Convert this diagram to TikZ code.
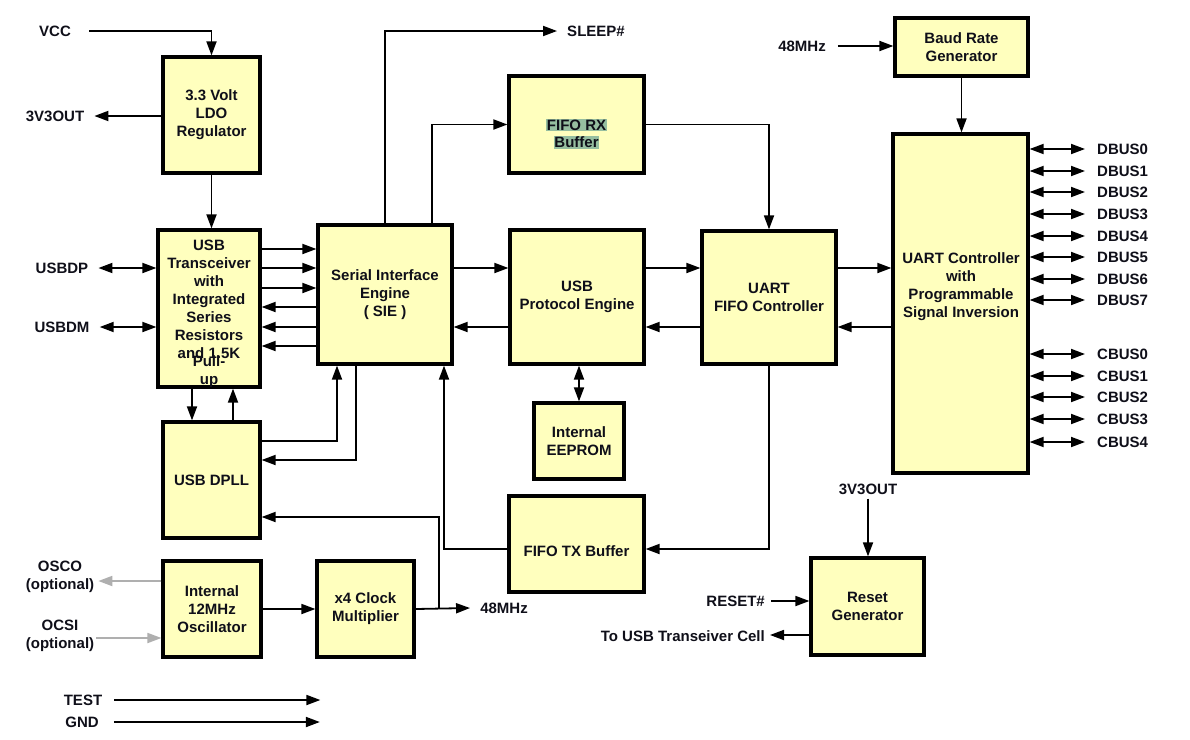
\documentclass[tikz,border=0pt]{standalone}
\usepackage{fontspec}
\setmainfont{Liberation Sans}
\usetikzlibrary{arrows.meta,calc}
\definecolor{boxfill}{RGB}{255,255,190}
\definecolor{hl}{RGB}{150,190,160}
\definecolor{txtc}{RGB}{15,15,25}
\definecolor{greyarr}{RGB}{175,175,175}
\tikzset{
  blk/.style={draw=black, line width=3.2pt, fill=boxfill, inner sep=0pt, rectangle,
    font=\fontsize{15}{18}\selectfont\bfseries, text=txtc, align=center},
  txt/.style={inner sep=0pt, font=\fontsize{15}{18}\selectfont\bfseries, text=txtc, align=center},
  arr/.style={line width=1.8pt, -{Triangle[length=14pt,width=10pt]}},
  darr/.style={line width=1.8pt, {Triangle[length=14pt,width=10pt]}-{Triangle[length=14pt,width=10pt]}},
  garr/.style={line width=1.8pt, draw=greyarr, -{Triangle[length=14pt,width=10pt,fill=greyarr]}},
  ln/.style={line width=1.8pt}
}
\begin{document}
\begin{tikzpicture}[x=1pt,y=-1pt]
\useasboundingbox[fill=white] (0,0) rectangle (1190,739);

% ---- boxes ----
\node[blk, minimum width=97, minimum height=116] (ldo) at (211.5,115) {3.3 Volt\\LDO\\Regulator};
\node[blk, minimum width=102, minimum height=157] (trx) at (209,308.5) {};
\node[txt] (trxt) at (209,299) {USB\\Transceiver\\with\\Integrated\\Series\\Resistors\\and 1.5K};
\node[txt] (trxp) at (209,372) {Pull-\\up};
\node[blk, minimum width=97, minimum height=116] (dpll) at (211.5,480) {USB DPLL};
\node[blk, minimum width=98, minimum height=96] (osc) at (212,609) {Internal\\12MHz\\Oscillator};
\node[blk, minimum width=97, minimum height=96] (mult) at (365.5,609) {x4 Clock\\Multiplier};
\node[blk, minimum width=134, minimum height=139] (sie) at (385,294.5) {Serial Interface\\Engine\\( SIE )};
\node[blk, minimum width=135, minimum height=97] (rx) at (576.5,124.5) {};
\node[txt, fill=hl, inner sep=0.6pt] (rxa) at (576.5,125) {FIFO RX};
\node[txt, fill=hl, inner sep=0.6pt] (rxb) at (576.5,142.5) {Buffer};
\node[blk, minimum width=134, minimum height=134] (upe) at (577,297) {USB\\Protocol Engine};
\node[blk, minimum width=90, minimum height=76] (eep) at (579,441) {Internal\\EEPROM};
\node[blk, minimum width=135, minimum height=96] (tx) at (576.5,544) {};
\node[txt] (txt) at (576.5,551) {FIFO TX Buffer};
\node[blk, minimum width=134, minimum height=133] (uff) at (769,297.5) {UART\\FIFO Controller};
\node[blk, minimum width=133, minimum height=58] (baud) at (961.5,47) {Baud Rate\\Generator};
\node[blk, minimum width=135, minimum height=339] (uart) at (960.5,303.5) {};
\node[txt] (uartt) at (961,287) {UART Controller\\with\\Programmable\\Signal Inversion};
\node[blk, minimum width=113, minimum height=97] (rst) at (867.5,606.5) {Reset\\Generator};

% ---- labels ----
\node[txt] (vcc) at (55,31) {VCC};
\node[txt] (v3a) at (55,116) {3V3OUT};
\node[txt] (usbdp) at (62,268) {USBDP};
\node[txt] (usbdm) at (62,327) {USBDM};
\node[txt] (osco) at (60,577) {OSCO\\(optional)};
\node[txt] (ocsi) at (60,636) {OCSI\\(optional)};
\node[txt] (test) at (83,700) {TEST};
\node[txt] (gnd) at (82,722) {GND};
\node[txt] (sleep) at (596,31) {SLEEP\#};
\node[txt] (m48b) at (504,608) {48MHz};
\node[txt] (m48a) at (802,46) {48MHz};
\node[txt] (v3b) at (868,489) {3V3OUT};
\node[txt, anchor=east] (rstin) at (765,601) {RESET\#};
\node[txt, anchor=east] (tousb) at (765,636) {To USB Transeiver Cell};

\foreach \i/\y in {0/149,1/171,2/192,3/214,4/236,5/257,6/279,7/300}{
  \node[txt, anchor=west] (dbus\i) at (1097,\y) {DBUS\i};
  \draw[darr] (uart.east |- dbus\i.west) -- ([xshift=-12pt]dbus\i.west);
}
\foreach \i/\y in {0/354,1/376,2/397,3/419,4/442}{
  \node[txt, anchor=west] (cbus\i) at (1097,\y) {CBUS\i};
  \draw[darr] (uart.east |- cbus\i.west) -- ([xshift=-12pt]cbus\i.west);
}

% ---- connectors ----
\draw[arr] ([xshift=18pt]vcc.east) -| (ldo.north);
\draw[arr] (ldo.west |- v3a) -- ([xshift=10pt]v3a.east);
\draw[arr] (ldo.south) -- (ldo.south |- trx.north);
\draw[darr] ([xshift=10pt]usbdp.east) -- (trx.west |- usbdp);
\draw[darr] ([xshift=10pt]usbdm.east) -- (trx.west |- usbdm);
\foreach \y in {249,268,288}{ \draw[arr] (trx.east |- 0,\y) -- (sie.west |- 0,\y); }
\foreach \y in {307,327,346}{ \draw[arr] (sie.west |- 0,\y) -- (trx.east |- 0,\y); }
\draw[arr] (trx.south -| 192,0) -- (dpll.north -| 192,0);
\draw[arr] (dpll.north -| 233,0) -- (trx.south -| 233,0);
\draw[arr] (dpll.east |- 0,441) -| (sie.south -| 337,0);
\draw[arr] (sie.south -| 356,0) |- (dpll.east |- 0,460);
\draw[arr] (sie.north -| 432,0) |- (rx.west);
\draw[arr] (sie.north -| 385,0) |- ([xshift=-10pt]sleep.west);
\draw[arr] (sie.east |- 0,268) -- (upe.west |- 0,268);
\draw[arr] (upe.west |- 0,327) -- (sie.east |- 0,327);
\draw[arr] (upe.east |- 0,268) -- (uff.west |- 0,268);
\draw[arr] (uff.west |- 0,327) -- (upe.east |- 0,327);
\draw[arr] (uff.east |- 0,268) -- (uart.west |- 0,268);
\draw[arr] (uart.west |- 0,327) -- (uff.east |- 0,327);
\draw[arr] (rx.east) -| (uff.north);
\draw[darr] (upe.south -| eep.north) -- (eep.north);
\draw[arr] (uff.south) |- (tx.east |- 0,549);
\draw[arr] (tx.west |- 0,549) -| (sie.south -| 444,0);
\draw[arr] (osc.east) -- (mult.west);
\draw[arr] (mult.east) -- ([xshift=-10pt]m48b.west);
\draw[arr] (439,609) |- (dpll.east |- 0,517);
\draw[garr] (osc.west |- 0,581) -- ([xshift=4pt]osco.east |- 0,581);
\draw[garr] ([xshift=2pt]ocsi.east |- 0,638) -- (osc.west |- 0,638);
\draw[arr] ([xshift=12pt]test.east) -- ++(206,0);
\draw[arr] ([xshift=15pt]gnd.east |- 0,722) -- ++(206,0);
\draw[arr] ([xshift=12pt]m48a.east) -- (baud.west |- m48a);
\draw[arr] (baud.south) -- (baud.south |- uart.north);
\draw[arr] (v3b.south) ++(0,4) -- (rst.north -| v3b);
\draw[arr] ([xshift=6pt]rstin.east) -- (rst.west |- rstin);
\draw[arr] (rst.west |- 0,635) -- ([xshift=5pt]tousb.east |- 0,635);
\end{tikzpicture}
\end{document}
